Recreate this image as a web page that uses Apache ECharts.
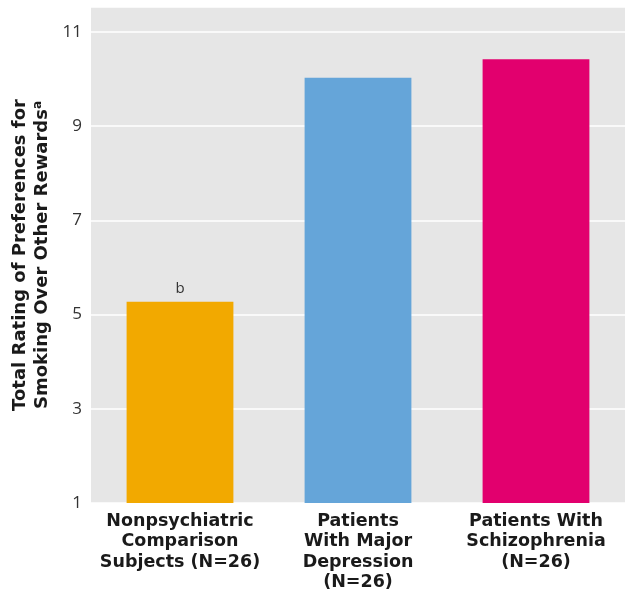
<!DOCTYPE html>
<html>
<head>
<meta charset="utf-8">
<script src="https://cdn.jsdelivr.net/npm/echarts@6/dist/echarts.min.js"></script>
<style>html,body{margin:0;padding:0;background:#fff}#c{width:626px;height:594px}</style>
</head>
<body>
<div id="c"></div>
<script>
const categories = ["Nonpsychiatric\nComparison\nSubjects (N=26)", "Patients\nWith Major\nDepression\n(N=26)", "Patients With\nSchizophrenia\n(N=26)"];
const values = [5.27, 10.03, 10.42];
const colors = ["#F2A900", "#65A5D9", "#E2006E"];
const barLabels = ["b", "", ""];
const yTicks = [1, 3, 5, 7, 9, 11];

const font = "Open Sans";
const bfont = "DejaVu Sans";
const chart = echarts.init(document.getElementById('c'));
chart.setOption({
  animation: false,
  grid: { left: 91, right: 1, top: 7, bottom: 91, show: true, backgroundColor: '#e6e6e6', borderWidth: 0 },
  xAxis: {
    type: 'category',
    data: categories,
    axisLine: { show: false },
    axisTick: { show: false },
    axisLabel: { interval: 0, hideOverlap: false, fontFamily: bfont, fontWeight: 'bold', fontSize: 17.5, color: '#1a1a1a', lineHeight: 20.5, margin: 8 }
  },
  yAxis: {
    type: 'value',
    min: 1, max: 11.53, interval: 2,
    name: '{n|Total Rating of Preferences for}\n{n|Smoking Over Other Rewards}{s|a}',
    nameLocation: 'middle',
    nameGap: 38,
    nameRotate: 90,
    nameTextStyle: {
      rich: {
        n: { fontFamily: bfont, fontWeight: 'bold', fontSize: 18, color: '#1a1a1a', lineHeight: 22 },
        s: { fontFamily: bfont, fontWeight: 'bold', fontSize: 12, color: '#1a1a1a', padding: [0, 0, 8, 0] }
      }
    },
    axisLine: { show: false },
    axisTick: { show: false },
    splitLine: { lineStyle: { color: '#ffffff', width: 1.5 } },
    axisLabel: {
      fontFamily: font, fontSize: 17, color: '#333', margin: 9,
      formatter: v => yTicks.includes(v) ? String(v) : ''
    }
  },
  series: [{
    type: 'bar',
    barWidth: '60%',
    data: values.map((v, i) => ({ value: v, itemStyle: { color: colors[i] },
      label: { show: barLabels[i] !== '', formatter: barLabels[i], position: 'top', distance: 6, fontFamily: font, fontSize: 15, color: '#333' } }))
  }]
});
</script>
</body>
</html>
